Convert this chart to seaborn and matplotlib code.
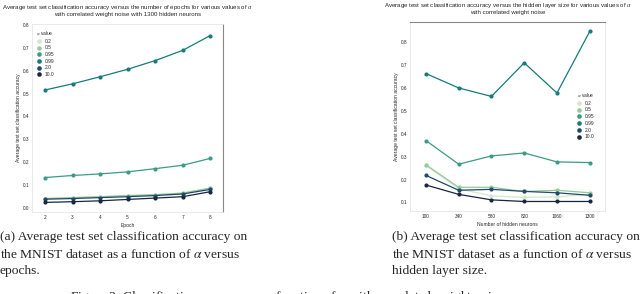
import matplotlib
matplotlib.use('Agg')
import matplotlib.pyplot as plt
import numpy as np
import pandas as pd
import seaborn as sns

sns.set_style('white')
plt.rcParams['font.family'] = ['Liberation Sans', 'DejaVu Sans']
plt.rcParams['mathtext.fontset'] = 'stix'

# data
alphas = ['0.2', '0.5', '0.95', '0.99', '2.0', '10.0']
colors = ['#d3e7cd', '#96c99b', '#3a9c86', '#157b7b', '#1e4b68', '#1b2541']

epochs = [2, 3, 4, 5, 6, 7, 8]
acc_epochs = {
    '0.2':  [0.040, 0.043, 0.047, 0.052, 0.056, 0.063, 0.085],
    '0.5':  [0.040, 0.044, 0.048, 0.053, 0.057, 0.064, 0.086],
    '0.95': [0.132, 0.141, 0.148, 0.157, 0.171, 0.186, 0.216],
    '0.99': [0.516, 0.543, 0.574, 0.607, 0.645, 0.690, 0.755],
    '2.0':  [0.037, 0.040, 0.044, 0.048, 0.053, 0.060, 0.080],
    '10.0': [0.023, 0.026, 0.030, 0.036, 0.042, 0.048, 0.070],
}

neurons = [100, 340, 580, 820, 1060, 1300]
acc_neurons = {
    '0.2':  [0.262, 0.160, 0.128, 0.122, 0.124, 0.136],
    '0.5':  [0.264, 0.166, 0.166, 0.148, 0.153, 0.142],
    '0.95': [0.370, 0.267, 0.303, 0.316, 0.277, 0.274],
    '0.99': [0.663, 0.600, 0.563, 0.710, 0.578, 0.847],
    '2.0':  [0.218, 0.153, 0.157, 0.148, 0.142, 0.131],
    '10.0': [0.176, 0.135, 0.111, 0.104, 0.104, 0.104],
}

def to_long(xs, table, xname):
    rows = []
    for a in alphas:
        for x, v in zip(xs, table[a]):
            rows.append({xname: x, 'acc': v, 'alpha': a})
    return pd.DataFrame(rows)

df_e = to_long(epochs, acc_epochs, 'epoch')
df_n = to_long(neurons, acc_neurons, 'neurons')

fig = plt.figure(figsize=(6.4, 2.94), dpi=100)
ax1 = fig.add_axes([0.05, 0.279, 0.298, 0.639])
ax2 = fig.add_axes([0.641, 0.282, 0.305, 0.643])

small = 3.4
for ax, df, xcol in [(ax1, df_e, 'epoch'), (ax2, df_n, 'neurons')]:
    sns.lineplot(data=df, x=xcol, y='acc', hue='alpha', hue_order=alphas,
                 palette=colors, marker='o', markersize=3, markeredgewidth=0,
                 linewidth=0.9, ax=ax)
    ax.tick_params(labelsize=small, length=0, pad=2)
    for s in ax.spines.values():
        s.set_color('#e6e6e6')
        s.set_linewidth(0.6)
    ax.set_ylabel('Average test set classification accuracy', fontsize=3.6, labelpad=1)

ax1.spines['right'].set_color('#888888')
ax1.spines['right'].set_linewidth(0.8)
ax2.spines['top'].set_color('#888888')
ax2.spines['top'].set_linewidth(0.8)

ax1.set_xlim(1.53, 8.45)
ax1.set_ylim(-0.019, 0.805)
ax1.set_xticks(epochs)
ax1.set_yticks(np.arange(0, 0.81, 0.1))
ax1.set_yticklabels(['%.1f' % v for v in np.arange(0, 0.81, 0.1)])
ax1.set_xlabel('Epoch', fontsize=3.6, labelpad=2)
ax1.set_title('Average test set classification accuracy versus the number of epochs for various values of $\\alpha$\n'
              'with correlated weight noise with 1300 hidden neurons', fontsize=4.4, pad=5.5)

ax2.set_xlim(-15, 1415)
ax2.set_ylim(0.062, 0.888)
ax2.set_xticks(neurons)
ax2.set_yticks(np.arange(0.1, 0.81, 0.1))
ax2.set_yticklabels(['%.1f' % v for v in np.arange(0.1, 0.81, 0.1)])
ax2.set_xlabel('Number of hidden neurons', fontsize=3.6, labelpad=2)
ax2.set_title('Average test set classification accuracy versus the hidden layer size for various values of $\\alpha$\n'
              'with correlated weight noise', fontsize=4.4, pad=5.5)

leg_kw = dict(title='$\\alpha$ value', fontsize=3.5, title_fontsize=3.5, frameon=False,
              markerscale=1.1, handlelength=1.2, handletextpad=0.6, labelspacing=0.35,
              borderpad=0, borderaxespad=0)
ax1.legend(loc='upper left', bbox_to_anchor=(0.02, 0.975), **leg_kw)
ax2.legend(loc='upper left', bbox_to_anchor=(0.85, 0.635), **leg_kw)
for ax in (ax1, ax2):
    for line in ax.get_legend().get_lines():
        line.set_linestyle('none')

serif = 'Liberation Serif'
cap_a = ['(a) Average test set classification accuracy on',
         'the MNIST dataset as a function of $\\alpha$ versus',
         'epochs.']
cap_b = ['(b) Average test set classification accuracy on',
         'the MNIST dataset as a function of $\\alpha$ versus',
         'hidden layer size.']
for i, (la, lb) in enumerate(zip(cap_a, cap_b)):
    y = 1 - (237 + 17 * i) / 294
    fig.text(0.0, y, la, family=serif, fontsize=9.7, va='center', ha='left')
    fig.text(392 / 640, y, lb, family=serif, fontsize=9.7, va='center', ha='left')
fig.text(70 / 640, 1 - 297 / 294,
         'Figure 3: Classification accuracy as a function of $\\alpha$ with correlated weight noise.',
         family=serif, fontsize=9.7, va='center', ha='left')

fig.savefig('out.png', dpi=100)
